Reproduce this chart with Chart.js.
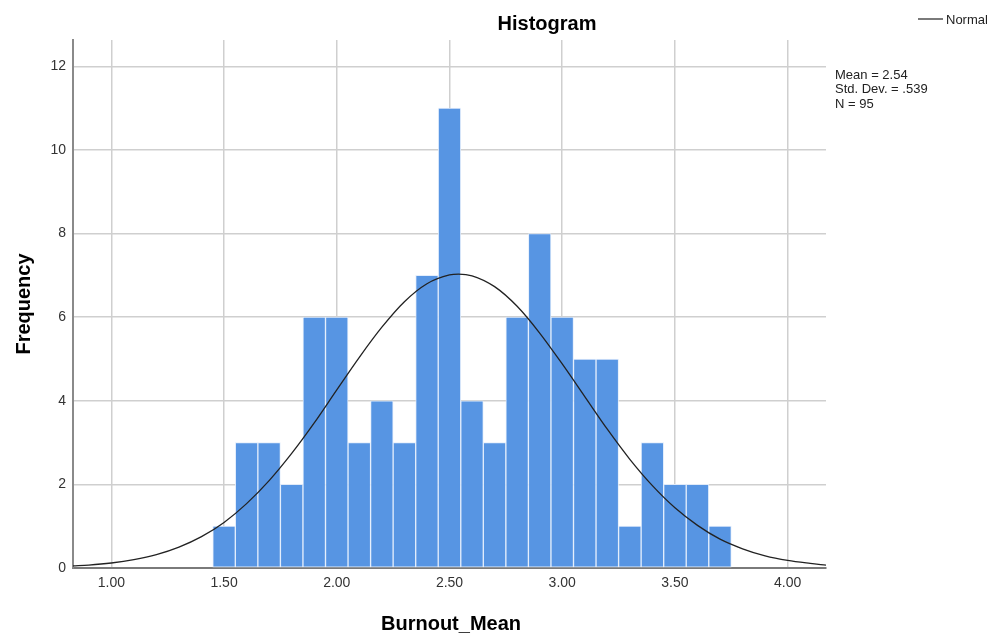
<!DOCTYPE html>
<html>
<head>
<meta charset="utf-8">
<script src="https://cdn.jsdelivr.net/npm/chart.js@4"></script>
<style>
  html, body { margin: 0; padding: 0; background: #fff; }
  #wrap { position: relative; width: 992px; height: 637px; }
</style>
</head>
<body>
<div id="wrap"><canvas id="hist" width="992" height="637"></canvas></div>
<script>
// bins of width 0.1, centres
const binCenters = [1.5, 1.6, 1.7, 1.8, 1.9, 2.0, 2.1, 2.2, 2.3, 2.4, 2.5, 2.6,
                    2.7, 2.8, 2.9, 3.0, 3.1, 3.2, 3.3, 3.4, 3.5, 3.6, 3.7];
const counts = [1, 3, 3, 2, 6, 6, 3, 4, 3, 7, 11, 4, 3, 6, 8, 6, 5, 5, 1, 3, 2, 2, 1];

// fitted normal curve
const curveX = [0.83, 0.9, 1.0, 1.1, 1.2, 1.3, 1.4, 1.5, 1.6, 1.7, 1.8, 1.9, 2.0,
                2.1, 2.2, 2.3, 2.4, 2.5, 2.54, 2.6, 2.7, 2.8, 2.9, 3.0, 3.1, 3.2,
                3.3, 3.4, 3.5, 3.6, 3.7, 3.8, 3.9, 4.0, 4.1, 4.17];
const curveY = [0.05, 0.07, 0.12, 0.20, 0.32, 0.50, 0.75, 1.09, 1.54, 2.09, 2.74,
                3.47, 4.26, 5.04, 5.76, 6.37, 6.80, 7.01, 7.03, 6.99, 6.73, 6.26,
                5.62, 4.88, 4.10, 3.32, 2.60, 1.97, 1.44, 1.02, 0.69, 0.46, 0.29,
                0.18, 0.11, 0.07];

const xTicks = [1.0, 1.5, 2.0, 2.5, 3.0, 3.5, 4.0];
const yTicks = [0, 2, 4, 6, 8, 10, 12];

const statsLines = ['Mean = 2.54', 'Std. Dev. = .539', 'N = 95'];

const FONT = '"Liberation Sans", Arial, sans-serif';

// titles, legend and stats box drawn on top
const extras = {
    id: 'extras',
    afterDraw(chart) {
        const ctx = chart.ctx;
        ctx.save();
        ctx.fillStyle = '#000';
        ctx.font = 'bold 20px ' + FONT;
        ctx.textAlign = 'center';
        ctx.textBaseline = 'alphabetic';
        ctx.fillText('Histogram', 547, 30);
        ctx.fillText('Burnout_Mean', 451, 630);

        ctx.save();
        ctx.translate(30, 304);
        ctx.rotate(-Math.PI / 2);
        ctx.fillText('Frequency', 0, 0);
        ctx.restore();

        // legend
        ctx.strokeStyle = '#222';
        ctx.lineWidth = 1.2;
        ctx.beginPath();
        ctx.moveTo(918, 19);
        ctx.lineTo(943, 19);
        ctx.stroke();
        ctx.font = '13px ' + FONT;
        ctx.textAlign = 'left';
        ctx.textBaseline = 'middle';
        ctx.fillStyle = '#222';
        ctx.fillText('Normal', 946, 20);

        // stats
        statsLines.forEach((t, i) => {
            ctx.fillText(t, 835, 75 + i * 14.5);
        });
        ctx.restore();
    }
};

const ctx = document.getElementById('hist').getContext('2d');
new Chart(ctx, {
    data: {
        datasets: [{
            type: 'line',
            label: 'Normal',
            data: curveX.map((x, i) => ({ x: x, y: curveY[i] })),
            borderColor: '#222',
            borderWidth: 1.3,
            pointRadius: 0,
            cubicInterpolationMode: 'monotone',
            fill: false,
            order: 0
        }, {
            type: 'bar',
            label: 'Frequency',
            data: binCenters.map((x, i) => ({ x: x, y: counts[i] })),
            backgroundColor: '#5795e3',
            borderColor: 'rgba(225, 236, 252, 0.9)',
            borderWidth: 1,
            borderSkipped: false,
            barPercentage: 1.0,
            categoryPercentage: 1.0,
            order: 1
        }]
    },
    options: {
        responsive: false,
        animation: false,
        layout: {
            padding: { left: 0, right: 166, top: 40, bottom: 0 }
        },
        scales: {
            x: {
                type: 'linear',
                offset: false,
                min: 0.83,
                max: 4.17,
                afterFit: s => { s.height = 69; },
                afterBuildTicks: s => { s.ticks = xTicks.map(v => ({ value: v })); },
                ticks: {
                    color: '#333',
                    padding: 7,
                    font: { family: FONT, size: 14 },
                    callback: v => Number(v).toFixed(2)
                },
                grid: {
                    offset: false,
                    color: '#cfcfcf',
                    lineWidth: 1.5,
                    drawTicks: false
                },
                border: { color: '#7a7a7a', width: 2 }
            },
            y: {
                type: 'linear',
                min: 0,
                max: 12.63,
                afterFit: s => { s.width = 73; },
                afterBuildTicks: s => { s.ticks = yTicks.map(v => ({ value: v })); },
                ticks: {
                    color: '#333',
                    padding: 7,
                    font: { family: FONT, size: 14 }
                },
                grid: {
                    color: '#cfcfcf',
                    lineWidth: 1.5,
                    drawTicks: false
                },
                border: { color: '#8a8a8a', width: 2 }
            }
        },
        plugins: {
            legend: { display: false },
            title: { display: false },
            tooltip: { enabled: false }
        }
    },
    plugins: [extras]
});
</script>
</body>
</html>
